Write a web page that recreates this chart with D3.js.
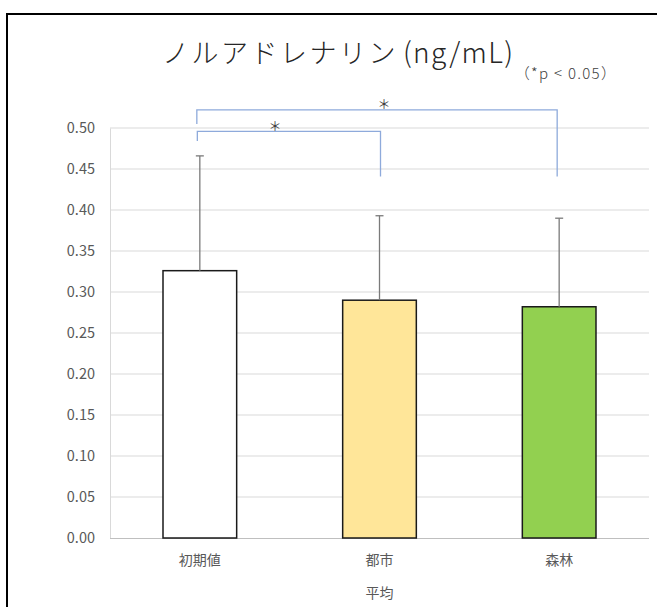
<!DOCTYPE html>
<html>
<head>
<meta charset="utf-8">
<script src="https://cdn.jsdelivr.net/npm/d3@7"></script>
<style>
  html, body { margin: 0; padding: 0; background: #fff; }
  svg { display: block; }
  text { font-family: "Noto Sans CJK JP", "Noto Sans", sans-serif; }
</style>
</head>
<body>
<svg id="chart" width="657" height="607"></svg>
<script>
// Mean noradrenaline by condition, with standard deviation
const categories = ["初期値", "都市", "森林"];
const means = [0.326, 0.290, 0.282];
const errors = [0.140, 0.103, 0.108];
const barColors = ["#FFFFFF", "#FFE699", "#92D050"];
const yTicks = [0, 0.05, 0.10, 0.15, 0.20, 0.25, 0.30, 0.35, 0.40, 0.45, 0.50];
// Significant pairs (p < 0.05)
const comparisons = [["初期値", "都市"], ["初期値", "森林"]];

const svg = d3.select("#chart");
const W = 657, H = 607;
const margin = { left: 110, right: 8, top: 128, bottom: 69 };

// chart frame
svg.append("rect")
  .attr("x", 7).attr("y", 14)
  .attr("width", W).attr("height", H)
  .attr("fill", "none").attr("stroke", "#000").attr("stroke-width", 2);

const x = d3.scaleBand()
  .domain(categories)
  .range([margin.left, W - margin.right])
  .paddingInner(0.59).paddingOuter(0.295);

const y = d3.scaleLinear()
  .domain([0, 0.5])
  .range([H - margin.bottom, margin.top]);

// gridlines
svg.append("g")
  .selectAll("line")
  .data(yTicks.filter(d => d > 0))
  .join("line")
  .attr("x1", margin.left).attr("x2", W - margin.right)
  .attr("y1", d => y(d)).attr("y2", d => y(d))
  .attr("stroke", "#d9d9d9").attr("stroke-width", 1);

// y axis
const yAxis = svg.append("g")
  .attr("transform", `translate(${margin.left},0)`)
  .call(d3.axisLeft(y).tickValues(yTicks).tickFormat(d3.format(".2f")).tickSize(0).tickPadding(15));
yAxis.select(".domain").attr("stroke", "#d9d9d9");
yAxis.selectAll("text").attr("fill", "#595959").attr("font-size", 14.5);

// x axis
const xAxis = svg.append("g")
  .attr("transform", `translate(0,${y(0)})`)
  .call(d3.axisBottom(x).tickSize(0).tickPadding(17));
xAxis.select(".domain").attr("stroke", "#bfbfbf").attr("d", `M${margin.left},0.5H${W - margin.right}`);
xAxis.selectAll("text").attr("fill", "#595959").attr("font-size", 14);

// bars
svg.append("g")
  .selectAll("rect")
  .data(categories)
  .join("rect")
  .attr("x", d => x(d))
  .attr("y", (d, i) => y(means[i]))
  .attr("width", x.bandwidth())
  .attr("height", (d, i) => y(0) - y(means[i]))
  .attr("fill", (d, i) => barColors[i])
  .attr("stroke", "#1a1a1a").attr("stroke-width", 1.5);

// error bars (upper)
const eb = svg.append("g").attr("stroke", "#7a7a7a").attr("stroke-width", 1.3);
categories.forEach((c, i) => {
  const cx = x(c) + x.bandwidth() / 2;
  eb.append("line").attr("x1", cx).attr("x2", cx)
    .attr("y1", y(means[i])).attr("y2", y(means[i] + errors[i]));
  eb.append("line").attr("x1", cx - 4).attr("x2", cx + 4)
    .attr("y1", y(means[i] + errors[i])).attr("y2", y(means[i] + errors[i]));
});

// significance brackets
const bracketTop = [0.496, 0.522];
const bracketLeftEnd = [0.484, 0.505];
const bracketRightEnd = 0.441;
const br = svg.append("g");
comparisons.forEach((pair, k) => {
  const x1 = x(pair[0]) + x.bandwidth() / 2 - 3 + (k === 0 ? 0.5 : 0);
  const x2 = x(pair[1]) + x.bandwidth() / 2 + (k === 0 ? 1 : -2);
  const yt = y(bracketTop[k]);
  br.append("path")
    .attr("d", `M${x1},${y(bracketLeftEnd[k])}V${yt}H${x2}V${y(bracketRightEnd)}`)
    .attr("fill", "none").attr("stroke", "#8eaadb").attr("stroke-width", 1.3);
  br.append("text")
    .attr("x", k === 0 ? (x1 + x2) / 2 - 14 : (x1 + x2) / 2 + 7)
    .attr("y", yt - 6)
    .attr("text-anchor", "middle")
    .attr("dominant-baseline", "central")
    .attr("font-size", 13).attr("fill", "#404040")
    .text("＊");
});

// title
const title = svg.append("text")
  .attr("x", 162).attr("y", 63)
  .attr("font-weight", 300).attr("fill", "#262626");
title.append("tspan").attr("font-size", 27).attr("letter-spacing", 2.5).text("ノルアドレナリン");
title.append("tspan").attr("dx", 5).attr("font-size", 28).attr("letter-spacing", 1.3).text("(ng/mL)");

svg.append("text")
  .attr("x", 566).attr("y", 79)
  .attr("text-anchor", "middle")
  .attr("font-size", 15).attr("font-weight", 300)
  .attr("letter-spacing", 1.3).attr("fill", "#404040")
  .text("（*p < 0.05）");

// axis title
svg.append("text")
  .attr("x", x("都市") + x.bandwidth() / 2).attr("y", 598)
  .attr("text-anchor", "middle")
  .attr("font-size", 14).attr("fill", "#595959")
  .text("平均");
</script>
</body>
</html>
